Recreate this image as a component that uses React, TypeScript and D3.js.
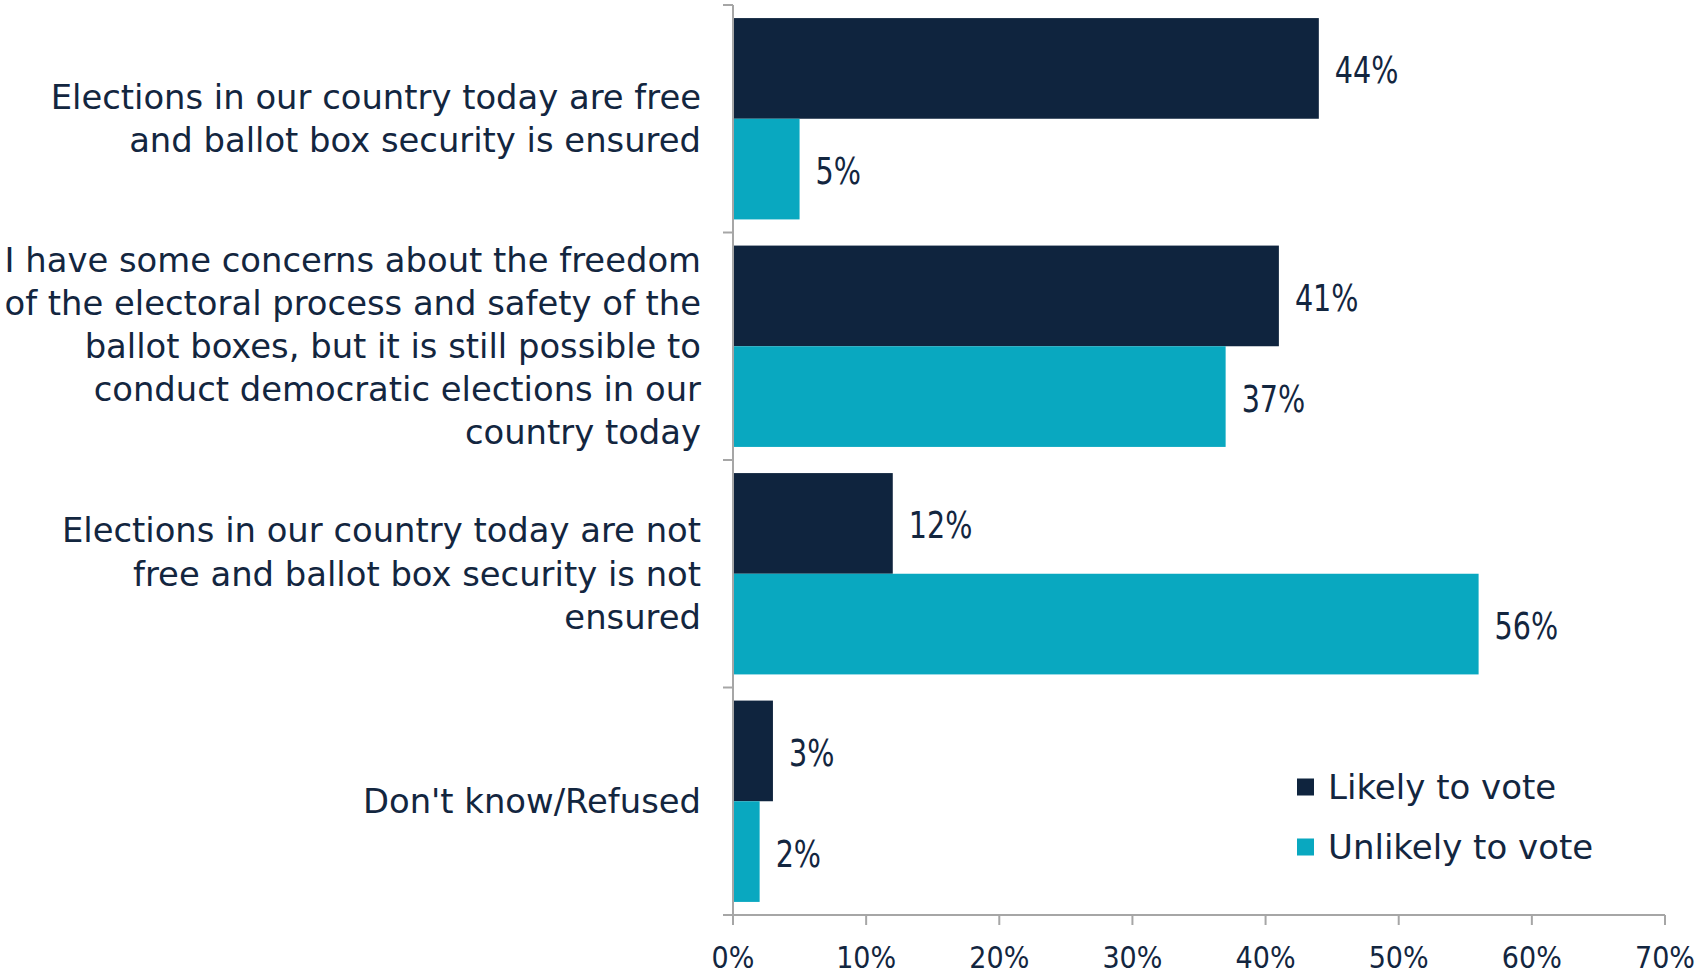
import React from "react";
import * as d3 from "d3";

const categories: string[][] = [
  ["Elections in our country today are free", "and ballot box security is ensured"],
  [
    "I have some concerns about the freedom",
    "of the electoral process and safety of the",
    "ballot boxes, but it is still possible to",
    "conduct democratic elections in our",
    "country today",
  ],
  ["Elections in our country today are not", "free and ballot box security is not", "ensured"],
  ["Don't know/Refused"],
];
const seriesNames = ["Likely to vote", "Unlikely to vote"];
const likely = [44, 41, 12, 3];
const unlikely = [5, 37, 56, 2];
const xTicks = [0, 10, 20, 30, 40, 50, 60, 70];

const W = 1698;
const H = 976;
const colors = ["#0F243E", "#09A8C0"];
const textColor = "#13263F";
const axisColor = "#A6A6A6";
const FONT = "'DejaVu Sans', sans-serif";
const NUMFONT = "'DejaVu Sans Condensed', 'DejaVu Sans', sans-serif";

export default function App() {
  const x0 = 733;
  const x1 = 1665;
  const yTop = 5;
  const yBot = 915;
  const x = d3.scaleLinear().domain([0, 70]).range([x0, x1]);
  const idx = categories.map((_, i) => String(i));
  const y = d3.scaleBand().domain(idx).range([yTop, yBot]).paddingInner(0.115).paddingOuter(0.0575);
  const sub = d3.scaleBand().domain(["0", "1"]).range([0, y.bandwidth()]);
  const step = (yBot - yTop) / categories.length;
  const boundaries = d3.range(categories.length + 1).map((i) => yTop + i * step);
  const series = [likely, unlikely];
  const fs = 33.8;
  const lh = 43.2;

  return (
    <svg
      width={W}
      height={H}
      style={{ position: "absolute", left: 0, top: 0, background: "#fff" }}
      fontFamily={FONT}
    >
      {/* bars */}
      {categories.map((_, ci) =>
        series.map((vals, si) => (
          <rect
            key={`b${ci}-${si}`}
            x={x(0)}
            y={(y(String(ci)) as number) + (sub(String(si)) as number)}
            width={x(vals[ci]) - x(0)}
            height={sub.bandwidth()}
            fill={colors[si]}
          />
        ))
      )}
      {/* value labels */}
      {categories.map((_, ci) =>
        series.map((vals, si) => {
          const tx = x(vals[ci]) + 16;
          const ty = (y(String(ci)) as number) + (sub(String(si)) as number) + sub.bandwidth() / 2 + 15;
          return (
            <text
              key={`v${ci}-${si}`}
              transform={`translate(${tx},${ty}) scale(0.86,1)`}
              fontSize={37}
              fontFamily={NUMFONT}
              fontStretch="condensed"
              fill={textColor}
            >
              {vals[ci]}%
            </text>
          );
        })
      )}
      {/* y axis */}
      <line x1={x0} x2={x0} y1={yTop} y2={yBot} stroke={axisColor} strokeWidth={2} />
      {boundaries.map((b, i) => (
        <line key={`yt${i}`} x1={x0 - 10} x2={x0} y1={b} y2={b} stroke={axisColor} strokeWidth={2} />
      ))}
      {/* x axis */}
      <line x1={x0 - 10} x2={x1} y1={yBot} y2={yBot} stroke={axisColor} strokeWidth={2} />
      {xTicks.map((t) => (
        <g key={`xt${t}`}>
          <line x1={x(t)} x2={x(t)} y1={yBot} y2={yBot + 10} stroke={axisColor} strokeWidth={2} />
          <text
            x={x(t)}
            y={968}
            textAnchor="middle"
            fontSize={30}
            fontFamily={NUMFONT}
            fontStretch="condensed"
            fill={textColor}
          >
            {t}%
          </text>
        </g>
      ))}
      {/* category labels */}
      {categories.map((lines, ci) => {
        const c = yTop + (ci + 0.5) * step;
        const start = c - ((lines.length - 1) * lh) / 2;
        return (
          <text key={`c${ci}`} textAnchor="end" fontSize={fs} fill={textColor}>
            {lines.map((ln, li) => (
              <tspan key={li} x={701} y={start + li * lh} dy="0.35em">
                {ln}
              </tspan>
            ))}
          </text>
        );
      })}
      {/* legend */}
      {seriesNames.map((n, i) => (
        <g key={`l${i}`} transform={`translate(1297, ${787 + i * 60})`}>
          <rect x={0} y={-8.5} width={17} height={17} fill={colors[i]} />
          <text x={31} y={0} dy="0.35em" fontSize={34} fill={textColor}>
            {n}
          </text>
        </g>
      ))}
    </svg>
  );
}
